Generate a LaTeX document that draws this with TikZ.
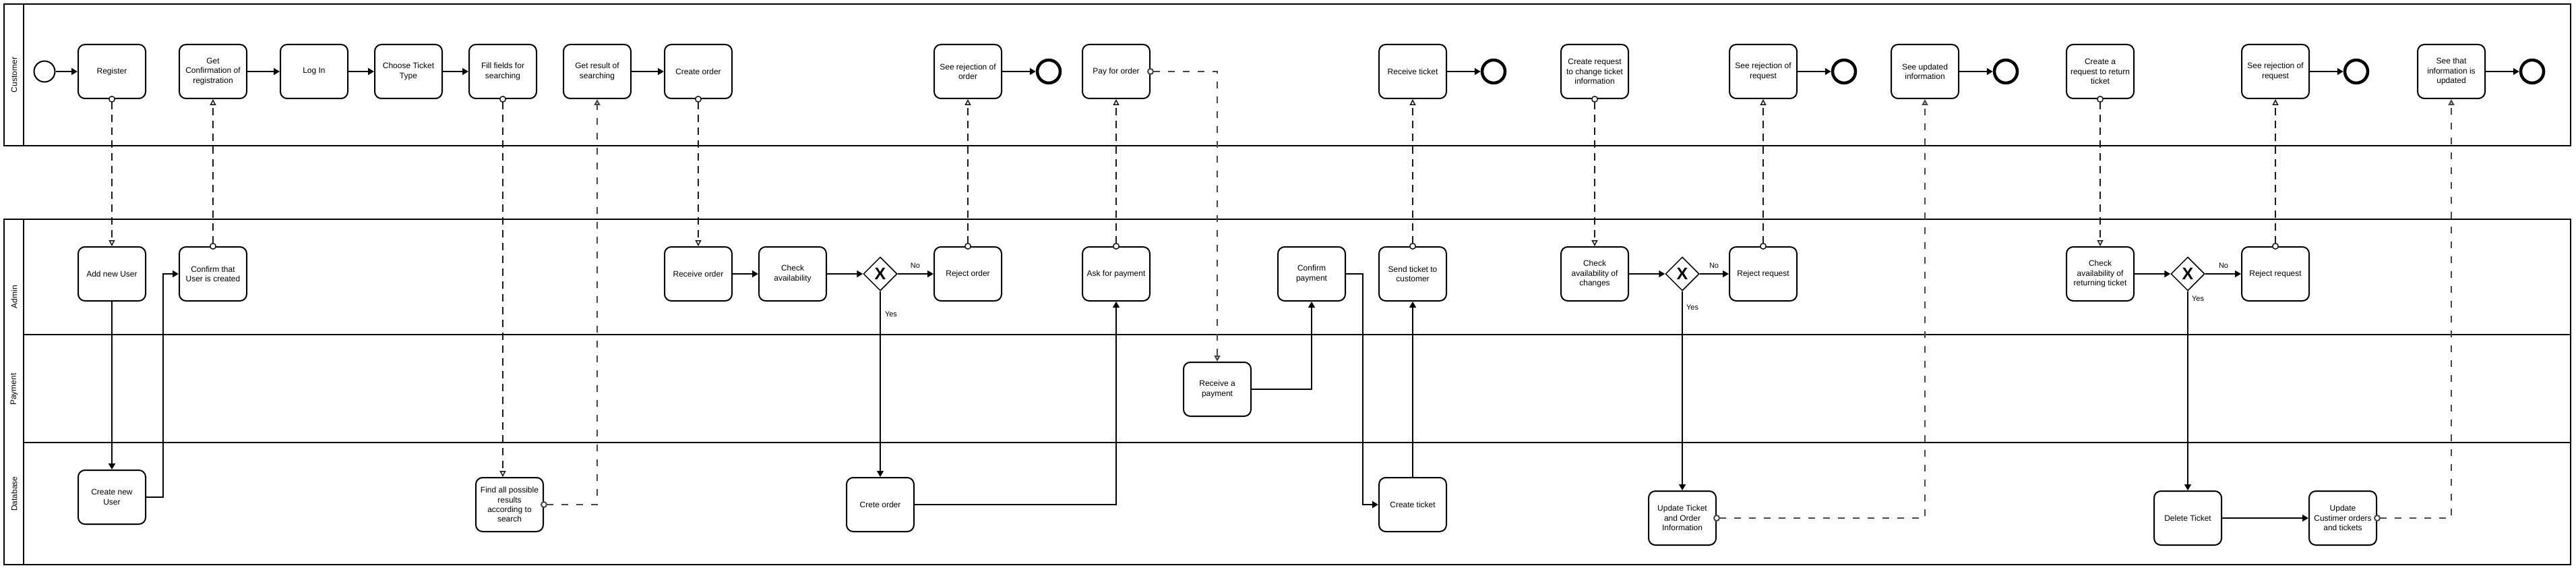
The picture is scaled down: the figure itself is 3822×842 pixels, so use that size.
\documentclass[tikz,border=0pt]{standalone}
\usepackage{fontspec}
\setmainfont{Liberation Sans}
\usetikzlibrary{arrows.meta,shapes.geometric,calc}
\begin{document}
\begin{tikzpicture}[x=1pt,y=-1pt,
 task/.style={draw,line width=2pt,rounded corners=10pt,minimum width=100pt,minimum height=80pt,align=center,font=\fontsize{12}{14.4}\selectfont,inner sep=2pt,fill=white},
 startev/.style={draw,circle,line width=2pt,minimum size=31pt,inner sep=0pt,fill=white},
 endev/.style={draw,circle,line width=4.5pt,minimum size=34pt,inner sep=0pt,fill=white},
 gway/.style={draw,diamond,line width=1.5pt,minimum width=50pt,minimum height=50pt,inner sep=0pt,aspect=1,fill=white,font=\fontsize{25}{25}\selectfont\bfseries},
 seq/.style={line width=2pt,-{Triangle[length=9pt,width=10pt]}},
 seqthin/.style={line width=1.4pt,-{Triangle[length=9pt,width=10pt]}},
 msg/.style={line width=1.5pt,draw=black!90,dash pattern=on 11pt off 8pt,{Circle[open,length=10pt,width=10pt,fill=white]}-{Triangle[open,length=9pt,width=9pt,fill=white]},shorten <=-5pt},
 msgb/.style={msg,line width=2pt,draw=black!72,dash pattern=on 10pt off 12pt},
 lbl/.style={font=\fontsize{11}{13}\selectfont,inner sep=0pt},
 lanelbl/.style={font=\fontsize{12}{14}\selectfont,rotate=90,inner sep=0pt},
 pool/.style={line width=2pt}
]
\fill[white] (0,0) rectangle (3822,842);
\useasboundingbox (0,0) rectangle (3822,842);

% pools and lanes
\draw[pool] (6,6) rectangle (3814,216);
\draw[pool] (35,6) -- (35,216);
\draw[pool] (6,325) rectangle (3814,837);
\draw[pool] (35,325) -- (35,837);
\draw[pool] (35,496) -- (3814,496);
\draw[pool] (35,656) -- (3814,656);
\node[lanelbl] (lcust) at (21,111) {Customer};
\node[lanelbl] (ladmin) at (21,440) {Admin};
\node[lanelbl] (lpay) at (21,577) {Payment};
\node[lanelbl] (ldb) at (21,732) {Database};

% Customer lane
\node[startev] (start) at (66,106) {};
\node[task] (register) at (166,106) {Register};
\node[task] (getconf) at (316,106) {Get\\Confirmation of\\registration};
\node[task] (login) at (466,106) {Log In};
\node[task] (choose) at (606,106) {Choose Ticket\\Type};
\node[task] (fill) at (746,106) {Fill fields for\\searching};
\node[task] (getres) at (886,106) {Get result of\\searching};
\node[task] (createorder) at (1036,106) {Create order};
\node[task] (seerej1) at (1436,106) {See rejection of\\order};
\node[endev] (end1) at (1556,106) {};
\node[task] (pay) at (1656,106) {Pay for order};
\node[task] (recticket) at (2096,106) {Receive ticket};
\node[endev] (end2) at (2216,106) {};
\node[task] (createreq) at (2366,106) {Create request\\to change ticket\\information};
\node[task] (seerej2) at (2616,106) {See rejection of\\request};
\node[endev] (end3) at (2736,106) {};
\node[task] (seeupd) at (2856,106) {See updated\\information};
\node[endev] (end4) at (2976,106) {};
\node[task] (createret) at (3116,106) {Create a\\request to return\\ticket};
\node[task] (seerej3) at (3376,106) {See rejection of\\request};
\node[endev] (end5) at (3496,106) {};
\node[task] (seeinfo) at (3637,106) {See that\\information is\\updated};
\node[endev] (end6) at (3757,106) {};

% Admin lane
\node[task] (addu) at (166,406) {Add new User};
\node[task] (confu) at (316,406) {Confirm that\\User is created};
\node[task] (recorder) at (1036,406) {Receive order};
\node[task] (checkav) at (1176,406) {Check\\availability};
\node[gway] (gw1) at (1306,406) {X};
\node[task] (rejorder) at (1436,406) {Reject order};
\node[task] (askpay) at (1656,406) {Ask for payment};
\node[task] (confpay) at (1946,406) {Confirm\\payment};
\node[task] (sendt) at (2096,406) {Send ticket to\\customer};
\node[task] (checkch) at (2366,406) {Check\\availability of\\changes};
\node[gway] (gw2) at (2496,406) {X};
\node[task] (rejreq1) at (2616,406) {Reject request};
\node[task] (checkret) at (3116,406) {Check\\availability of\\returning ticket};
\node[gway] (gw3) at (3246,406) {X};
\node[task] (rejreq2) at (3376,406) {Reject request};

% Payment lane
\node[task] (recpay) at (1806,577) {Receive a\\payment};

% Database lane
\node[task] (createu) at (166,737) {Create new\\User};
\node[task] (findall) at (756,748) {Find all possible\\results\\according to\\search};
\node[task] (crete) at (1306,748) {Crete order};
\node[task] (createt) at (2096,748) {Create ticket};
\node[task] (updt) at (2496,768) {Update Ticket\\and Order\\Information};
\node[task] (delt) at (3246,768) {Delete Ticket};
\node[task] (updc) at (3476,768) {Update\\Custimer orders\\and tickets};

% gateway labels
\node[lbl] (no1) at (1358,394) {No};
\node[lbl] (yes1) at (1322,466) {Yes};
\node[lbl] (no2) at (2543,394) {No};
\node[lbl] (yes2) at (2511,456) {Yes};
\node[lbl] (no3) at (3299,394) {No};
\node[lbl] (yes3) at (3261,443) {Yes};

% sequence flows
\draw[seq] (start) -- (register);
\draw[seq] (getconf) -- (login);
\draw[seq] (login) -- (choose);
\draw[seq] (choose) -- (fill);
\draw[seq] (getres) -- (createorder);
\draw[seq] (seerej1) -- (end1);
\draw[seq] (recticket) -- (end2);
\draw[seq] (seerej2) -- (end3);
\draw[seq] (seeupd) -- (end4);
\draw[seq] (seerej3) -- (end5);
\draw[seq] (seeinfo) -- (end6);

\draw[seq] (addu) -- (createu);
\draw[seq] (createu.east) -- ++(25,0) |- (confu.west);
\draw[seq] (recorder) -- (checkav);
\draw[seq] (checkav) -- (gw1);
\draw[seqthin] (gw1) -- (rejorder);
\draw[seqthin] (gw1) -- (crete);
\draw[seqthin] (crete.east) -| (askpay.south);
\draw[seqthin] (recpay.east) -| (confpay.south);
\draw[seq] (confpay.east) -- ++(25,0) |- (createt.west);
\draw[seqthin] (createt) -- (sendt);
\draw[seq] (checkch) -- (gw2);
\draw[seqthin] (gw2) -- (rejreq1);
\draw[seqthin] (gw2) -- (updt);
\draw[seq] (checkret) -- (gw3);
\draw[seqthin] (gw3) -- (rejreq2);
\draw[seqthin] (gw3) -- (delt);
\draw[seq] (delt) -- (updc);

% message flows
\draw[msg] (register.south) -- (addu.north);
\draw[msg] (confu.north) -- (getconf.south);
\draw[msg] (fill.south) -- (fill.south |- findall.north);
\draw[msgb] (findall.east) -| (getres.south);
\draw[msg] (createorder.south) -- (recorder.north);
\draw[msg] (rejorder.north) -- (seerej1.south);
\draw[msg] (askpay.north) -- (pay.south);
\draw[msgb] (pay.east) -| (recpay.north);
\draw[msg] (sendt.north) -- (recticket.south);
\draw[msg] (createreq.south) -- (checkch.north);
\draw[msg] (rejreq1.north) -- (seerej2.south);
\draw[msgb] (updt.east) -| (seeupd.south);
\draw[msg] (createret.south) -- (checkret.north);
\draw[msg] (rejreq2.north) -- (seerej3.south);
\draw[msgb] (updc.east) -| (seeinfo.south);
\end{tikzpicture}
\end{document}
